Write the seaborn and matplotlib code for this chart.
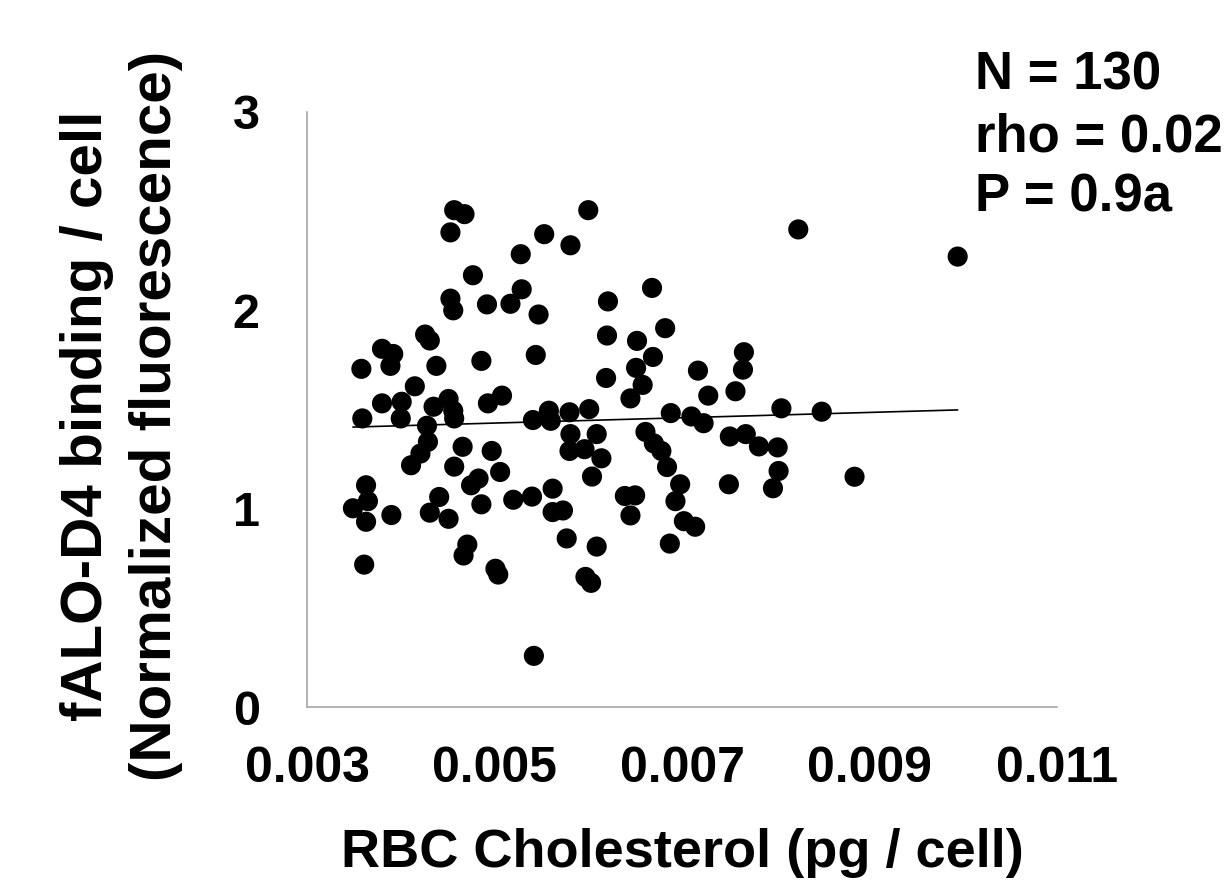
import numpy as np
import pandas as pd
import matplotlib
matplotlib.use('Agg')
import matplotlib.pyplot as plt
import seaborn as sns

# RBC cholesterol (pg / cell)
x_chol = [0.00358, 0.00389, 0.00380, 0.00392, 0.00380, 0.00401, 0.00359, 0.00400,
          0.00415, 0.00411, 0.00421, 0.00363, 0.00365, 0.00349, 0.00363, 0.00390,
          0.00361, 0.00426, 0.00431, 0.00438, 0.00428, 0.00429, 0.00435, 0.00451,
          0.00456, 0.00457, 0.00453, 0.00456, 0.00457, 0.00468, 0.00453, 0.00431,
          0.00441, 0.00451, 0.00457, 0.00466, 0.00471, 0.00467, 0.00477, 0.00492,
          0.00486, 0.00493, 0.00508, 0.00497, 0.00506, 0.00483, 0.00475, 0.00486,
          0.00501, 0.00504, 0.00517, 0.00529, 0.00528, 0.00547, 0.00544, 0.00541,
          0.00520, 0.00540, 0.00542, 0.00553, 0.00581, 0.00600, 0.00558, 0.00560,
          0.00580, 0.00601, 0.00581, 0.00609, 0.00580, 0.00596, 0.00614, 0.00604,
          0.00562, 0.00562, 0.00573, 0.00577, 0.00609, 0.00597, 0.00603, 0.00621,
          0.00620, 0.00619, 0.00668, 0.00682, 0.00652, 0.00669, 0.00651, 0.00658,
          0.00645, 0.00688, 0.00661, 0.00670, 0.00678, 0.00684, 0.00698, 0.00693,
          0.00702, 0.00714, 0.00687, 0.00639, 0.00650, 0.00645, 0.00717, 0.00710,
          0.00723, 0.00728, 0.00766, 0.00765, 0.00757, 0.00751, 0.00768, 0.00782,
          0.00802, 0.00803, 0.00797, 0.00750, 0.00806, 0.00849, 0.00884, 0.00824,
          0.00994]

# fALO-D4 binding / cell (normalized fluorescence)
y_fluor = [1.705, 1.72, 1.806, 1.78, 1.531, 1.539, 1.455, 1.455,
           1.617, 1.219, 1.278, 1.118, 1.038, 1.002, 0.934, 0.968,
           0.718, 1.878, 1.848, 1.72, 1.418, 1.337, 1.514, 1.553,
           1.494, 1.455, 2.059, 2.0, 2.505, 2.485, 2.393, 0.98,
           1.059, 0.949, 1.212, 1.312, 0.819, 0.764, 2.177, 2.03,
           1.745, 1.531, 1.57, 1.291, 1.185, 1.152, 1.118, 1.022,
           0.697, 0.668, 2.033, 2.106, 2.283, 1.979, 1.775, 1.447,
           1.045, 1.061, 0.258, 2.384, 2.328, 2.505, 1.494, 1.443,
           1.486, 1.502, 1.376, 1.376, 1.291, 1.30, 1.254, 1.162,
           1.101, 0.983, 0.991, 0.85, 0.809, 0.656, 0.626, 2.045,
           1.873, 1.659, 2.113, 1.91, 1.846, 1.765, 1.71, 1.624,
           1.556, 1.482, 1.387, 1.329, 1.291, 1.21, 1.123, 1.038,
           0.937, 0.909, 0.824, 1.064, 1.067, 0.966, 1.696, 1.465,
           1.431, 1.57, 1.789, 1.701, 1.592, 1.364, 1.376, 1.314,
           1.309, 1.19, 1.103, 1.123, 1.506, 1.489, 1.161, 2.408,
           2.271]

x_ticks = [0.003, 0.005, 0.007, 0.009, 0.011]
x_tick_labels = ['0.003', '0.005', '0.007', '0.009', '0.011']
y_ticks = [0, 1, 2, 3]
stats_lines = ['N = 130', 'rho = 0.02', 'P = 0.9a']

df = pd.DataFrame({'chol': x_chol, 'fluor': y_fluor})

sns.set_style('white')
plt.rcParams['font.family'] = ['Liberation Sans', 'DejaVu Sans']
plt.rcParams['font.weight'] = 'bold'
plt.rcParams['text.color'] = 'black'
plt.rcParams['axes.labelcolor'] = 'black'
plt.rcParams['xtick.color'] = 'black'
plt.rcParams['ytick.color'] = 'black'

fig = plt.figure(figsize=(12.25, 8.86), dpi=100)
ax = fig.add_axes([0.2506, 0.202, 0.6123, 0.6716])

sns.scatterplot(data=df, x='chol', y='fluor', color='black', s=210,
                edgecolor='none', ax=ax, zorder=3)
sns.regplot(data=df, x='chol', y='fluor', scatter=False, ci=None, ax=ax,
            line_kws={'color': 'black', 'lw': 1.2, 'zorder': 2})

ax.set_xlim(0.003, 0.011)
ax.set_ylim(0, 3)
ax.set_xticks(x_ticks)
ax.set_xticklabels(x_tick_labels)
ax.set_yticks(y_ticks)
ax.tick_params(axis='x', length=0, pad=28, labelsize=36, labelcolor='black')
ax.tick_params(axis='y', length=0, pad=34, labelsize=35, labelcolor='black')
for lab in ax.get_xticklabels() + ax.get_yticklabels():
    lab.set_fontweight('bold')

for side in ['top', 'right']:
    ax.spines[side].set_visible(False)
for side in ['left', 'bottom']:
    ax.spines[side].set_color('#a6a6a6')
    ax.spines[side].set_linewidth(1.2)

ax.set_xlabel('RBC Cholesterol (pg / cell)', fontsize=39, fontweight='bold',
              color='black')
ax.xaxis.set_label_coords(0.5, -0.245)
ax.xaxis.label.set_va('center')
ax.set_ylabel('fALO-D4 binding / cell\n(Normalized fluorescence)', fontsize=42,
              fontweight='bold', linespacing=1.35, color='black')
ax.yaxis.set_label_coords(-0.247, 0.49)
ax.yaxis.label.set_va('center')

for i, line in enumerate(stats_lines):
    fig.text(975 / 1225, 1 - (76 + 61 * i) / 886, line, fontsize=38,
             fontweight='bold', ha='left', va='center', color='black')

fig.savefig('out.png', dpi=100)
